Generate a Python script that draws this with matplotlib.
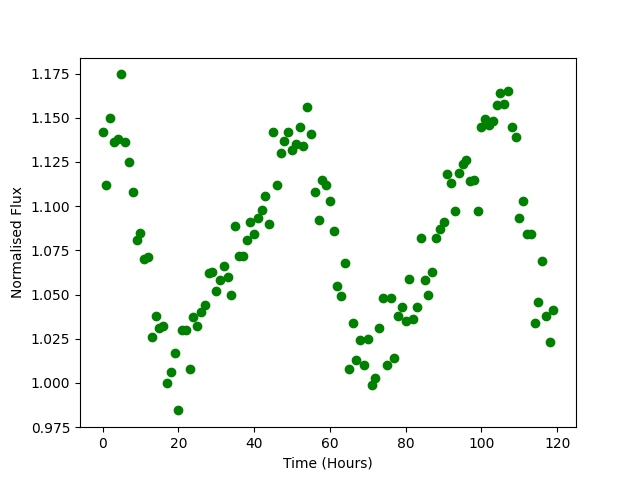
import matplotlib
matplotlib.use("Agg")
import matplotlib.pyplot as plt
import numpy as np

hours = np.arange(120)
flux = [
    1.142, 1.112, 1.150, 1.136, 1.138, 1.1745, 1.136, 1.125, 1.108, 1.081,
    1.085, 1.070, 1.071, 1.026, 1.038, 1.031, 1.032, 1.000, 1.006, 1.017,
    0.98445, 1.030, 1.030, 1.008, 1.037, 1.032, 1.040, 1.044, 1.062, 1.063,
    1.052, 1.058, 1.066, 1.060, 1.050, 1.089, 1.072, 1.072, 1.081, 1.091,
    1.084, 1.093, 1.098, 1.106, 1.090, 1.142, 1.112, 1.130, 1.137, 1.142,
    1.132, 1.135, 1.145, 1.134, 1.156, 1.141, 1.108, 1.092, 1.115, 1.112,
    1.103, 1.086, 1.055, 1.049, 1.068, 1.008, 1.034, 1.013, 1.024, 1.010,
    1.025, 0.999, 1.003, 1.031, 1.048, 1.010, 1.048, 1.014, 1.038, 1.043,
    1.035, 1.059, 1.036, 1.043, 1.082, 1.058, 1.050, 1.063, 1.082, 1.087,
    1.091, 1.118, 1.113, 1.097, 1.119, 1.124, 1.126, 1.114, 1.115, 1.097,
    1.145, 1.149, 1.146, 1.148, 1.157, 1.164, 1.158, 1.165, 1.145, 1.139,
    1.093, 1.103, 1.084, 1.084, 1.034, 1.046, 1.069, 1.038, 1.023, 1.041,
]

fig, ax = plt.subplots(figsize=(6.4, 4.8), dpi=100)
ax.plot(hours, flux, 'o', color='green')
ax.set_xlabel("Time (Hours)")
ax.set_ylabel("Normalised Flux")
fig.savefig("out.png")
